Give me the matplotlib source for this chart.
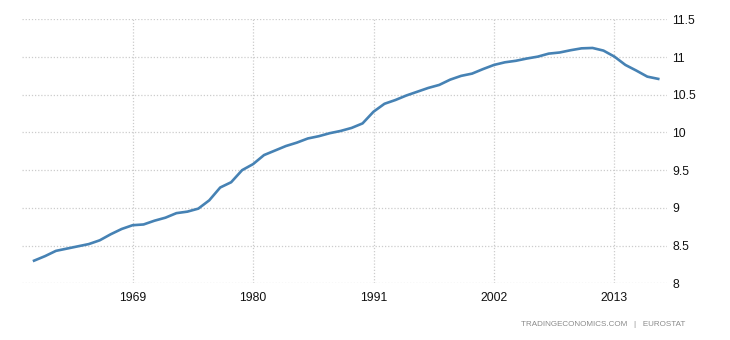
import matplotlib
matplotlib.use('Agg')
import matplotlib.pyplot as plt

years = list(range(1960, 2018))
population = [8.30, 8.36, 8.43, 8.46, 8.49, 8.52, 8.57, 8.65, 8.72, 8.77,
              8.78, 8.83, 8.87, 8.93, 8.95, 8.99, 9.10, 9.27, 9.34, 9.50,
              9.58, 9.70, 9.76, 9.82, 9.865, 9.92, 9.95, 9.99, 10.02, 10.06,
              10.12, 10.275, 10.38, 10.43, 10.49, 10.54, 10.59, 10.63, 10.70, 10.75,
              10.78, 10.84, 10.895, 10.93, 10.95, 10.98, 11.005, 11.045, 11.06, 11.09,
              11.115, 11.12, 11.085, 11.005, 10.895, 10.82, 10.74, 10.71]
xticks = [1969, 1980, 1991, 2002, 2013]
yticks = [8, 8.5, 9, 9.5, 10, 10.5, 11, 11.5]
ylabels = ['8', '8.5', '9', '9.5', '10', '10.5', '11', '11.5']

plt.rcParams['font.family'] = ['Liberation Sans', 'DejaVu Sans']

fig = plt.figure(figsize=(7.3, 3.4), dpi=100)
ax = fig.add_axes([22/730, 1-283.3/340, (667-22)/730, (283.3-19.3)/340])

ax.plot(years, population, color='#4682b4', linewidth=1.9, solid_joinstyle='round')

ax.set_xlim(1958.9, 2017.8)
ax.set_ylim(8, 11.5)
ax.set_xticks(xticks)
ax.set_xticklabels([str(y) for y in xticks])
ax.set_yticks(yticks)
ax.set_yticklabels(ylabels)
ax.yaxis.tick_right()
ax.tick_params(axis='both', length=0, labelsize=8.8, colors='#111111')
ax.tick_params(axis='x', pad=6)
ax.tick_params(axis='y', pad=4)

ax.grid(True, color='#cccccc', linestyle=(0, (1, 1.5)), linewidth=0.9)
ax.set_axisbelow(True)
for s in ax.spines.values():
    s.set_visible(False)

fig.text(685/730, 1-325/340, 'TRADINGECONOMICS.COM   |   EUROSTAT', ha='right', va='center',
         fontsize=5.8, color='#8a8a8a')

fig.savefig('out.png', dpi=100)
